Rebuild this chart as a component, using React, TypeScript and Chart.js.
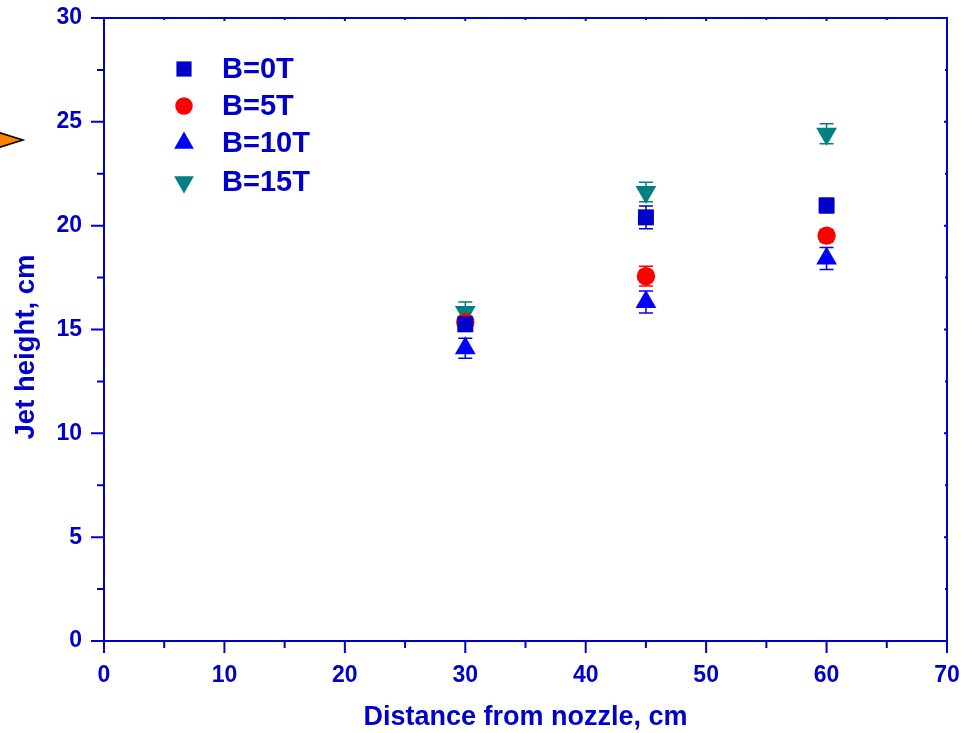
import React, { useEffect, useRef } from 'react';
import { Chart, registerables } from 'chart.js';

Chart.register(...registerables);

const distances = [30, 45, 60];
const seriesLabels = ['B=0T', 'B=5T', 'B=10T', 'B=15T'];
const heightB0 = [15.25, 20.4, 20.97];
const heightB5 = [15.35, 17.57, 19.52];
const heightB10 = [14.1, 16.32, 18.42];
const heightB15 = [15.84, 21.62, 24.43];
const errB0 = [0.3, 0.55, 0.35];
const errB5 = [0.3, 0.47, 0.3];
const errB10 = [0.48, 0.53, 0.53];
const errB15 = [0.48, 0.47, 0.48];
const xTicks = [0, 10, 20, 30, 40, 50, 60, 70];
const yTicks = [0, 5, 10, 15, 20, 25, 30];
const xTitle = 'Distance from nozzle, cm';
const yTitle = 'Jet height, cm';

const AXIS = '#0000CC';
const FONT = 'Liberation Sans, Arial, sans-serif';

const seriesStyle = [
  { color: '#0000CC', style: 'rect', radius: 11.3, rotation: 0 },
  { color: '#FF0000', style: 'circle', radius: 9.2, rotation: 0 },
  { color: '#0000FF', style: 'triangle', radius: 12, rotation: 0 },
  { color: '#008080', style: 'triangle', radius: 12, rotation: 180 },
];

function drawMarker(ctx: CanvasRenderingContext2D, style: string, x: number, y: number, r: number, rot: number, color: string) {
  ctx.save();
  ctx.fillStyle = color;
  ctx.beginPath();
  if (style === 'rect') {
    const s = Math.SQRT1_2 * r;
    ctx.rect(x - s, y - s, 2 * s, 2 * s);
  } else if (style === 'circle') {
    ctx.arc(x, y, r, 0, Math.PI * 2);
  } else {
    let rad = (rot * Math.PI) / 180;
    ctx.moveTo(x + Math.sin(rad) * r, y - Math.cos(rad) * r);
    rad += (2 * Math.PI) / 3;
    ctx.lineTo(x + Math.sin(rad) * r, y - Math.cos(rad) * r);
    rad += (2 * Math.PI) / 3;
    ctx.lineTo(x + Math.sin(rad) * r, y - Math.cos(rad) * r);
    ctx.closePath();
  }
  ctx.fill();
  ctx.restore();
}

export default function App() {
  const ref = useRef<HTMLCanvasElement | null>(null);

  useEffect(() => {
    if (!ref.current) return;
    const values = [heightB0, heightB5, heightB10, heightB15];
    const errors = [errB0, errB5, errB10, errB15];

    const errorBarPlugin = {
      id: 'errorBars',
      beforeDatasetsDraw(chart: any) {
        const ctx = chart.ctx;
        const xs = chart.scales.x;
        const ys = chart.scales.y;
        values.forEach((vals, i) => {
          ctx.save();
          ctx.strokeStyle = seriesStyle[i].color;
          ctx.lineWidth = 1.5;
          vals.forEach((v, j) => {
            const px = xs.getPixelForValue(distances[j]);
            const top = ys.getPixelForValue(v + errors[i][j]);
            const bot = ys.getPixelForValue(v - errors[i][j]);
            ctx.beginPath();
            ctx.moveTo(px, top);
            ctx.lineTo(px, bot);
            ctx.moveTo(px - 7, top);
            ctx.lineTo(px + 7, top);
            ctx.moveTo(px - 7, bot);
            ctx.lineTo(px + 7, bot);
            ctx.stroke();
          });
          ctx.restore();
        });
      },
    };

    const framePlugin = {
      id: 'frame',
      afterDraw(chart: any) {
        const ctx = chart.ctx;
        const { left, right, top, bottom } = chart.chartArea;
        const xs = chart.scales.x;
        const ys = chart.scales.y;
        ctx.save();
        ctx.strokeStyle = AXIS;
        ctx.lineWidth = 2;
        ctx.beginPath();
        ctx.rect(left, top, right - left, bottom - top);
        ctx.stroke();
        for (let v = 0; v <= 70; v += 5) {
          const px = xs.getPixelForValue(v);
          const major = v % 10 === 0;
          ctx.beginPath();
          ctx.moveTo(px, bottom);
          ctx.lineTo(px, bottom + (major ? 12 : 7));
          ctx.moveTo(px, top);
          ctx.lineTo(px, top + (major ? 3 : 2));
          ctx.stroke();
        }
        for (let v = 0; v <= 30; v += 2.5) {
          const py = ys.getPixelForValue(v);
          const major = v % 5 === 0;
          ctx.beginPath();
          ctx.moveTo(left, py);
          ctx.lineTo(left - (major ? 13 : 7), py);
          ctx.moveTo(right, py);
          ctx.lineTo(right - (major ? 3 : 2), py);
          ctx.stroke();
        }
        // axis titles
        ctx.fillStyle = AXIS;
        ctx.font = `bold 27px ${FONT}`;
        ctx.textAlign = 'center';
        ctx.textBaseline = 'middle';
        ctx.fillText(xTitle, (left + right) / 2, 718);
        ctx.save();
        ctx.translate(26, 347);
        ctx.rotate(-Math.PI / 2);
        ctx.font = `bold 27.5px ${FONT}`;
        ctx.fillText(yTitle, 0, 0);
        ctx.restore();
        // legend
        const legendY = [69, 106, 143, 182];
        ctx.font = `bold 29px ${FONT}`;
        ctx.textBaseline = 'middle';
        ctx.textAlign = 'left';
        seriesLabels.forEach((lab, i) => {
          const s = seriesStyle[i];
          drawMarker(ctx, s.style, 184, legendY[i], s.radius * 0.95, s.rotation, s.color);
          ctx.fillStyle = AXIS;
          ctx.fillText(lab, 222, legendY[i] + 1);
        });
        // orange arrow fragment at left edge
        ctx.beginPath();
        ctx.moveTo(-22, 126);
        ctx.lineTo(23, 140);
        ctx.lineTo(-22, 154);
        ctx.closePath();
        ctx.fillStyle = '#FF7F00';
        ctx.fill();
        ctx.strokeStyle = '#000000';
        ctx.lineWidth = 1.5;
        ctx.stroke();
        ctx.restore();
      },
    };

    const chart = new Chart(ref.current, {
      type: 'scatter',
      data: {
        datasets: values.map((vals, i) => ({
          label: seriesLabels[i],
          data: vals.map((v, j) => ({ x: distances[j], y: v })),
          pointStyle: seriesStyle[i].style as any,
          pointRadius: seriesStyle[i].radius,
          pointRotation: seriesStyle[i].rotation,
          backgroundColor: seriesStyle[i].color,
          borderColor: seriesStyle[i].color,
          borderWidth: 0,
          showLine: false,
        })),
      },
      options: {
        animation: false,
        responsive: false,
        maintainAspectRatio: false,
        layout: { padding: { top: 18, right: 28, left: 0, bottom: 0 } },
        plugins: {
          legend: { display: false },
          tooltip: { enabled: false },
        },
        scales: {
          x: {
            type: 'linear',
            min: 0,
            max: 70,
            afterBuildTicks: (s: any) => {
              s.ticks = xTicks.map((v) => ({ value: v }));
            },
            afterFit: (s: any) => {
              s.height = 92;
              s.paddingLeft = 0;
              s.paddingRight = 0;
              s.paddingTop = 0;
              s.paddingBottom = 0;
            },
            grid: { display: true, drawOnChartArea: false, drawTicks: false, color: 'rgba(0,0,0,0)' },
            border: { display: false },
            ticks: {
              color: AXIS,
              padding: 21,
              font: { family: FONT, size: 23, weight: 'bold' },
              maxRotation: 0,
            },
          },
          y: {
            type: 'linear',
            min: 0,
            max: 30,
            afterBuildTicks: (s: any) => {
              s.ticks = yTicks.map((v) => ({ value: v }));
            },
            afterFit: (s: any) => {
              s.width = 104;
              s.paddingLeft = 0;
              s.paddingRight = 0;
              s.paddingTop = 0;
              s.paddingBottom = 0;
            },
            grid: { display: true, drawOnChartArea: false, drawTicks: false, color: 'rgba(0,0,0,0)' },
            border: { display: false },
            ticks: {
              color: AXIS,
              padding: 22,
              font: { family: FONT, size: 23, weight: 'bold' },
            },
          },
        },
      },
      plugins: [errorBarPlugin, framePlugin],
    });
    return () => chart.destroy();
  }, []);

  return (
    <div style={{ position: 'fixed', left: 0, top: 0, width: 975, height: 733, background: '#fff' }}>
      <canvas ref={ref} width={975} height={733} style={{ display: 'block' }} />
    </div>
  );
}
